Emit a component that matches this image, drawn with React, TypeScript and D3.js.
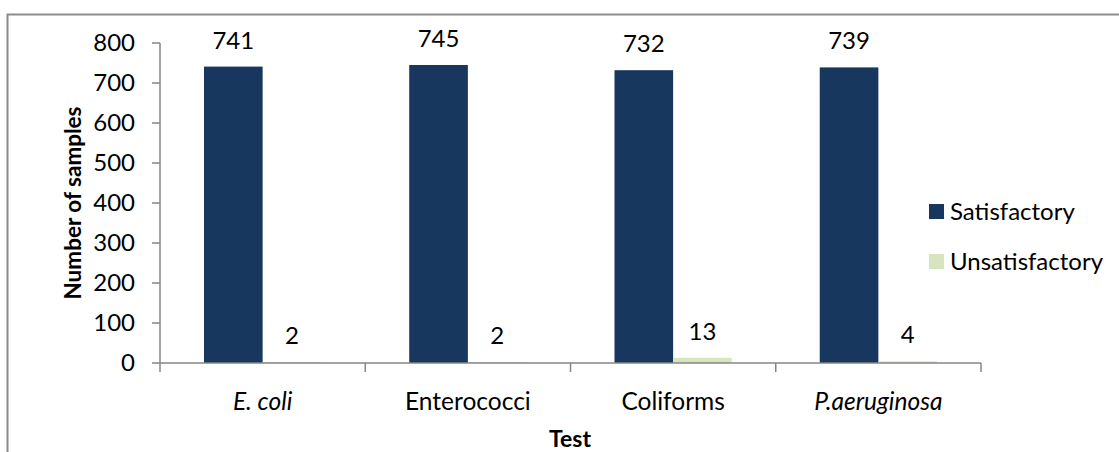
import React from "react";
import * as d3 from "d3";

const categories = ["E. coli", "Enterococci", "Coliforms", "P.aeruginosa"];
const italicCats = ["E. coli", "P.aeruginosa"];
const seriesNames = ["Satisfactory", "Unsatisfactory"];
const satisfactory = [741, 745, 732, 739];
const unsatisfactory = [2, 2, 13, 4];
const yTicks = [0, 100, 200, 300, 400, 500, 600, 700, 800];
const colors = ["#17375E", "#D7E4BD"];

const W = 1119;
const H = 452;
const FONT = "Lato, 'Open Sans', sans-serif";

export default function App() {
  const plot = { left: 160, right: 981, top: 43, bottom: 363 };
  const y = d3.scaleLinear().domain([0, 800]).range([plot.bottom, plot.top]);
  const x0 = d3.scaleBand().domain(categories).range([plot.left, plot.right]).paddingInner(0).paddingOuter(0);
  const bw = x0.bandwidth();
  const barW = bw / 3.5;
  const series = [satisfactory, unsatisfactory];
  const axisColor = "#868686";

  return (
    <svg width={W} height={H} style={{ position: "absolute", left: 0, top: 0, background: "#fff" }}>
      <rect x={7.5} y={14.5} width={W + 20} height={H + 20} fill="#fff" stroke="#8c8c8c" strokeWidth={2} />
      {/* bars */}
      {series.map((vals, si) =>
        vals.map((v, ci) => {
          const cx = x0(categories[ci])! + bw / 2;
          const bx = cx - barW + si * barW;
          return (
            <g key={`${si}-${ci}`}>
              <rect x={bx} y={y(v)} width={barW} height={plot.bottom - y(v)} fill={colors[si]} />
              <text x={bx + barW / 2} y={y(v) - 18} textAnchor="middle" fontFamily={FONT} fontSize={24} fill="#000">
                {v}
              </text>
            </g>
          );
        })
      )}
      {/* y axis */}
      <line x1={plot.left} x2={plot.left} y1={plot.top} y2={plot.bottom} stroke={axisColor} strokeWidth={1.5} />
      {yTicks.map((t) => (
        <g key={t}>
          <line x1={plot.left - 8} x2={plot.left} y1={y(t)} y2={y(t)} stroke={axisColor} strokeWidth={1.5} />
          <text x={plot.left - 25} y={y(t)} dy="0.35em" textAnchor="end" fontFamily={FONT} fontSize={24} fill="#000">
            {t}
          </text>
        </g>
      ))}
      {/* x axis */}
      <line x1={plot.left} x2={plot.right} y1={plot.bottom} y2={plot.bottom} stroke={axisColor} strokeWidth={1.5} />
      {[...categories.map((c) => x0(c)!), plot.right].map((tx, i) => (
        <line key={i} x1={tx} x2={tx} y1={plot.bottom} y2={plot.bottom + 9} stroke={axisColor} strokeWidth={1.5} />
      ))}
      {categories.map((c) => (
        <text
          key={c}
          x={x0(c)! + bw / 2}
          y={410}
          textAnchor="middle"
          fontFamily={FONT}
          fontSize={24.5}
          fontStyle={italicCats.includes(c) ? "italic" : "normal"}
          fill="#000"
        >
          {c}
        </text>
      ))}
      {/* axis titles */}
      <text x={570} y={447} textAnchor="middle" fontFamily={FONT} fontSize={23} fontWeight="bold" fill="#000">
        Test
      </text>
      <text
        transform={`translate(81, 203) rotate(-90)`}
        textAnchor="middle"
        fontFamily={FONT}
        fontSize={22.5}
        fontWeight="bold"
        fill="#000"
      >
        Number of samples
      </text>
      {/* legend */}
      {seriesNames.map((s, i) => (
        <g key={s} transform={`translate(929, ${204 + i * 50})`}>
          <rect x={0} y={0} width={15} height={15} fill={colors[i]} />
          <text x={21} y={7.5} dy="0.36em" fontFamily={FONT} fontSize={24} fill="#000">
            {s}
          </text>
        </g>
      ))}
    </svg>
  );
}
